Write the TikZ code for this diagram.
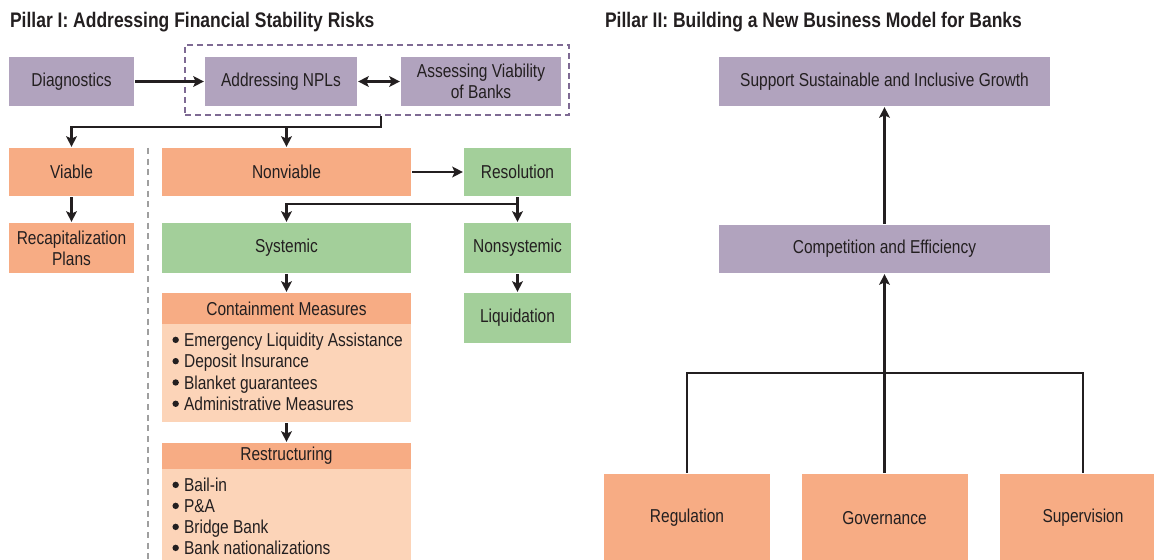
\documentclass[tikz,border=0pt]{standalone}
\usepackage{fontspec}
\setmainfont[FakeStretch=0.83]{Liberation Sans}
\usetikzlibrary{arrows.meta}

\definecolor{lilac}{HTML}{B1A3BE}
\definecolor{salmon}{HTML}{F7AC84}
\definecolor{peach}{HTML}{FCD4B8}
\definecolor{mint}{HTML}{A3CF9A}
\definecolor{ink}{HTML}{231F20}
\definecolor{plum}{HTML}{7E6A93}

\begin{document}
\begin{tikzpicture}[x=0.75pt, y=-0.75pt, line width=1.6pt, draw=ink, text=ink,
  font=\fontsize{14pt}{15.75pt}\selectfont,
  >={Stealth[length=8pt, width=8pt, inset=1.8pt]},
  box/.style={inner sep=0pt, align=center},
  lilacbox/.style={box, fill=lilac},
  salmonbox/.style={box, fill=salmon},
  mintbox/.style={box, fill=mint},
  listbox/.style={box, fill=peach, minimum width=186.75pt},
  item/.style={anchor=west, inner sep=0pt, text height=10pt, text depth=3pt},
  title/.style={anchor=west, inner sep=0pt, font=\fontsize{15.8pt}{18pt}\selectfont\bfseries}]

\useasboundingbox (0,0) rectangle (1154,560);
\clip (0,0) rectangle (1154,560);

% Pillar I
\node[title] (pillarA) at (9,22) {Pillar I: Addressing Financial Stability Risks};

\node[draw=plum, dash pattern=on 4.5pt off 3pt, line width=1.2pt, minimum width=288pt, minimum height=52.5pt] (grp) at (377,80) {};
\node[lilacbox, minimum width=93.75pt, minimum height=36.75pt] (diag) at (71.5,81.5) {Diagnostics};
\node[lilacbox, minimum width=114pt, minimum height=36.75pt] (npl) at (281,81.5) {Addressing NPLs};
\node[lilacbox, minimum width=120pt, minimum height=36.75pt] (viab) at (481,81.5) {Assessing Viability\\of Banks};

\node[salmonbox, minimum width=93.75pt, minimum height=36pt] (viable) at (71.5,172) {Viable};
\node[salmonbox, minimum width=186.75pt, minimum height=36pt] (nonv) at (286.5,172) {Nonviable};
\node[mintbox, minimum width=80.25pt, minimum height=36pt] (resol) at (517.5,172) {Resolution};

\node[salmonbox, minimum width=93.75pt, minimum height=37.5pt] (recap) at (71.5,248) {Recapitalization\\Plans};
\node[mintbox, minimum width=186.75pt, minimum height=37.5pt] (sys) at (286.5,248) {Systemic};
\node[mintbox, minimum width=80.25pt, minimum height=37.5pt] (nonsys) at (517.5,248) {Nonsystemic};

\node[salmonbox, minimum width=186.75pt, minimum height=23.25pt] (contHead) at (286.5,308.5) {Containment Measures};
\node[listbox, minimum height=73.5pt] (contBody) at (286.5,373) {};
\foreach \txt [count=\i from 0] in {Emergency Liquidity Assistance, Deposit Insurance, Blanket guarantees, Administrative Measures} {
  \node[item] (cont\i) at (183, 342+21.3*\i) {\txt};
  \fill[ink] ([xshift=-5.5pt, yshift=1.6pt]cont\i.west) circle (2.4pt);
}
\node[mintbox, minimum width=80.25pt, minimum height=37.5pt] (liq) at (517.5,318) {Liquidation};

\node[salmonbox, minimum width=186.75pt, minimum height=19.5pt] (restHead) at (286.5,456) {Restructuring};
\node[listbox, minimum height=72pt] (restBody) at (286.5,517) {};
\foreach \txt [count=\i from 0] in {Bail-in, P\&A, Bridge Bank, Bank nationalizations} {
  \node[item] (rest\i) at (183, 487+21*\i) {\txt};
  \fill[ink] ([xshift=-5.5pt, yshift=1.6pt]rest\i.west) circle (2.4pt);
}

\draw[gray!75, line width=1.2pt, dash pattern=on 4.5pt off 3.5pt] (148,148) -- (148,560);

\coordinate (split) at (381,127);
\coordinate (rsplit) at (517.5,204);
\draw[->] (diag) -- (npl);
\draw[<->] (npl) -- (viab);
\draw[->] (grp.south -| split) -- (split) -| (viable);
\draw[->] (split -| nonv) -- (nonv);
\draw[->] (viable) -- (recap);
\draw[->] (nonv) -- (resol);
\draw[->] (resol) -- (rsplit) -| (sys);
\draw[->] (rsplit) -- (nonsys);
\draw[->] (sys) -- (contHead);
\draw[->] (contBody) -- (restHead);
\draw[->] (nonsys) -- (liq);

% Pillar II
\node[title] (pillarB) at (604,22) {Pillar II: Building a New Business Model for Banks};

\node[lilacbox, minimum width=248.25pt, minimum height=36.75pt] (goal) at (884.5,81.5) {Support Sustainable and Inclusive Growth};
\node[lilacbox, minimum width=248.25pt, minimum height=36pt] (comp) at (884.5,249) {Competition and Efficiency};

\node[salmonbox, minimum width=124.5pt, minimum height=66pt] (reg) at (687,518) {Regulation};
\node[salmonbox, minimum width=124.5pt, minimum height=66pt] (gov) at (884.5,518) {Governance};
\node[salmonbox, minimum width=124.5pt, minimum height=66pt] (sup) at (1083,518) {Supervision};

\coordinate (join) at (884.5,373);
\draw[->] (comp) -- (goal);
\draw[->] (gov) -- (comp);
\draw (reg) |- (join) -| (sup);
\end{tikzpicture}
\end{document}
